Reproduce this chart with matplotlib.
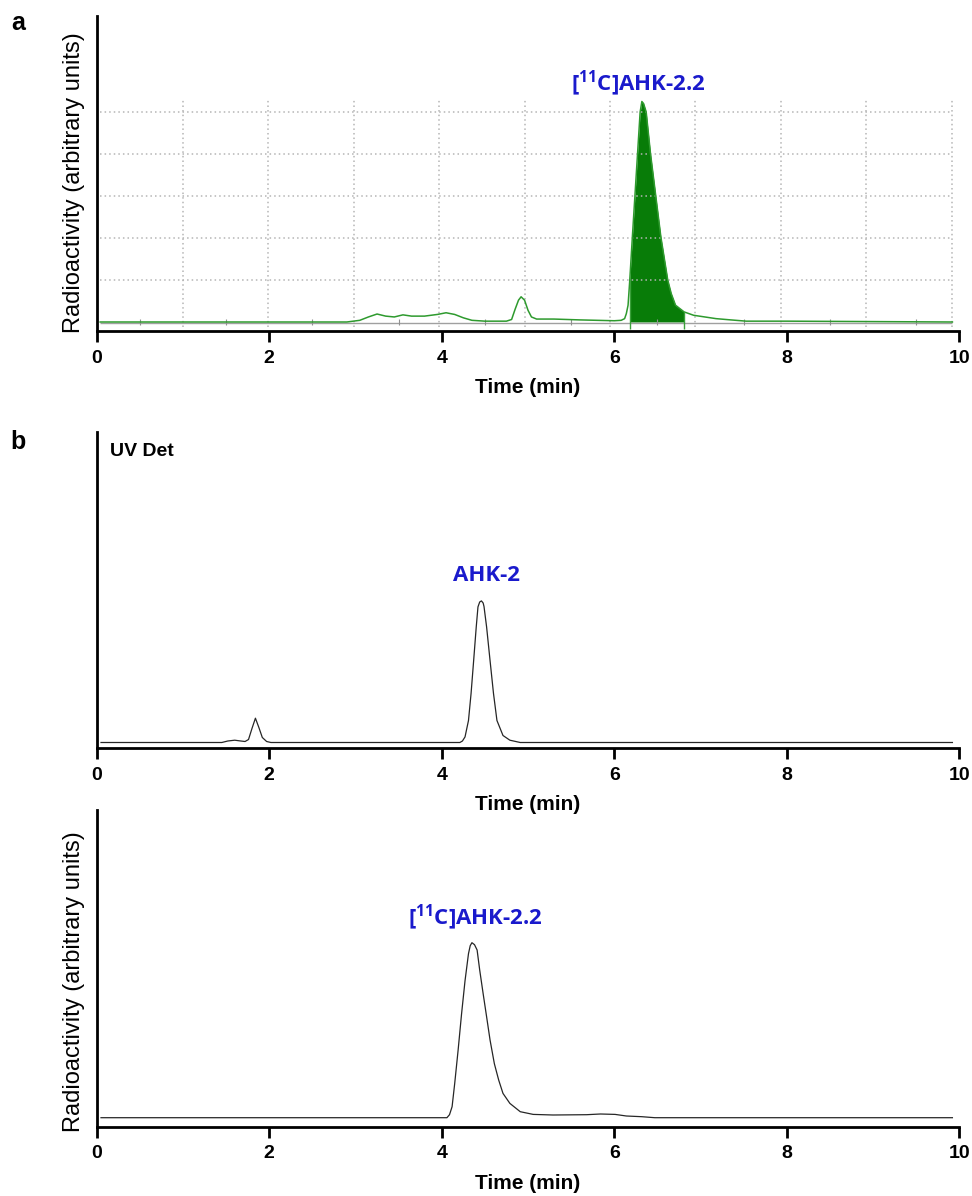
import matplotlib
matplotlib.use('Agg')
import matplotlib.pyplot as plt
import numpy as np

plt.rcParams['font.family'] = 'Liberation Sans'
plt.rcParams['mathtext.fontset'] = 'custom'
plt.rcParams['mathtext.rm'] = 'Open Sans:bold'
plt.rcParams['mathtext.it'] = 'Open Sans:bold'
plt.rcParams['mathtext.bf'] = 'Open Sans:bold'

# panel a: radio-HPLC trace (arbitrary units, 1 = one grid step)
a_time = [0.04, 2.90, 3.05, 3.15, 3.25, 3.35, 3.45, 3.55, 3.65, 3.80, 3.95, 4.05,
          4.15, 4.25, 4.35, 4.50, 4.75, 4.81, 4.85, 4.89, 4.92, 4.96, 5.00, 5.04,
          5.10, 5.30, 5.60, 6.00, 6.08, 6.12, 6.14, 6.16, 6.18, 6.21, 6.24, 6.27,
          6.30, 6.32, 6.34, 6.37, 6.42, 6.48, 6.54, 6.62, 6.66, 6.71, 6.81, 6.92,
          7.05, 7.18, 7.35, 7.53, 8.00, 9.92]
a_signal = [0.0, 0.0, 0.04, 0.12, 0.19, 0.14, 0.12, 0.17, 0.14, 0.14, 0.18, 0.22,
            0.18, 0.10, 0.04, 0.02, 0.02, 0.06, 0.30, 0.52, 0.60, 0.52, 0.28, 0.12,
            0.07, 0.07, 0.05, 0.03, 0.04, 0.08, 0.2, 0.40, 1.0, 2.03, 3.02, 4.01,
            5.0, 5.25, 5.2, 5.0, 4.01, 3.02, 2.03, 1.0, 0.68, 0.40, 0.24, 0.16,
            0.12, 0.08, 0.05, 0.02, 0.02, 0.0]
a_peak_start = 6.18
a_peak_end = 6.81

# panel b top: UV trace
uv_time = [0.05, 1.45, 1.52, 1.60, 1.67, 1.72, 1.76, 1.80, 1.84, 1.88, 1.92, 1.97,
           2.02, 4.21, 4.24, 4.27, 4.31, 4.34, 4.37, 4.40, 4.42, 4.44, 4.46, 4.48,
           4.49, 4.52, 4.56, 4.60, 4.64, 4.71, 4.79, 4.91, 9.92]
uv_signal = [0, 0, 1.5, 2.3, 1.5, 1.0, 3, 14, 24.3, 15, 5, 1,
             0, 0, 1.5, 5.6, 22, 49, 82, 115.6, 135.6, 140.5, 141.6, 139.5,
             136, 115.6, 82, 49, 22, 7, 2.3, 0, 0]

# panel b bottom: radio trace
rad_time = [0.05, 4.06, 4.09, 4.12, 4.15, 4.19, 4.23, 4.27, 4.31, 4.33, 4.35, 4.38,
            4.41, 4.44, 4.48, 4.52, 4.56, 4.61, 4.66, 4.71, 4.79, 4.91, 5.06, 5.29,
            5.68, 5.84, 6.01, 6.14, 6.32, 6.47, 9.92]
rad_signal = [0, 0, 3, 11, 34, 67.7, 104, 137, 164, 172, 175, 173,
              167.7, 147.7, 124, 101, 77.7, 54, 37.7, 24.3, 14.3, 6, 3.3, 2.7,
              3, 3.7, 3.3, 1.7, 1, 0, 0]

x_ticks = [0, 2, 4, 6, 8, 10]
x_tick_labels = ['0', '2', '4', '6', '8', '10']
grid_y = [1, 2, 3, 4, 5]
grid_x = np.arange(1, 11) * 0.99 + 0.01

BLUE = '#1a1acc'
W, H = 972, 1196

fig = plt.figure(figsize=(W / 100, H / 100), dpi=100)


def axes_px(left, top, right, bottom):
    ax = fig.add_axes([left / W, 1 - bottom / H, (right - left) / W, (bottom - top) / H])
    ax.patch.set_alpha(0)
    return ax


def style(ax):
    for s in ['top', 'right']:
        ax.spines[s].set_visible(False)
    for s in ['left', 'bottom']:
        ax.spines[s].set_linewidth(2.0)
    ax.set_xlim(0, 10)
    ax.set_xticks(x_ticks)
    ax.set_xticklabels(x_tick_labels, fontsize=14, fontweight='bold')
    ax.tick_params(axis='x', length=8, width=2.0, pad=5.5)
    ax.set_yticks([])
    ax.set_xlabel('Time (min)', fontsize=15, fontweight='bold', labelpad=8)


# ---- panel a
ax1 = axes_px(96.7, 16, 959.3, 331)
style(ax1)
ax1.set_ylim(-9 / 42, 306 / 42)
ax1.hlines(grid_y, 0.04, 9.92, colors='#b5b5b5', linestyles=(0, (1, 2)), lw=1.1)
ax1.vlines(grid_x, -0.11, 5.29, colors='#b5b5b5', linestyles=(0, (1, 2)), lw=1.1)
ax1.hlines(-0.03, 0.04, 9.92, colors='#a0a0a0', lw=1.0)
ax1.vlines(np.arange(0.5, 10, 1), -0.08, 0.06, colors='#909090', lw=0.8)
t = np.array(a_time)
s = np.array(a_signal)
ax1.fill_between(t, 0, s, where=(t >= a_peak_start) & (t <= a_peak_end),
                 color='#087c08', lw=0)
ax1.plot(a_time, a_signal, color='#2e9a2e', lw=1.1)
ax1.vlines([a_peak_start, a_peak_end], -0.17,
           [np.interp(a_peak_start, t, s), np.interp(a_peak_end, t, s)],
           colors='#3aa03a', lw=1.0)

# ---- panel b top
ax2 = axes_px(96.7, 432, 959.3, 748)
style(ax2)
ax2.set_ylim(-5.5, 310.5)
ax2.plot(uv_time, uv_signal, color='#262626', lw=0.9)

# ---- panel b bottom
ax3 = axes_px(96.7, 810, 959.3, 1126.7)
style(ax3)
ax3.set_ylim(-9, 307.7)
ax3.plot(rad_time, rad_signal, color='#262626', lw=0.9)

# ---- texts
fig.text(18 / W, 1 - 23.5 / H, 'a', fontsize=18, fontweight='bold', ha='center', va='center')
fig.text(17.5 / W, 1 - 442 / H, 'b', fontsize=18, fontweight='bold', ha='center', va='center')
fig.text(110 / W, 1 - 451.5 / H, 'UV Det', fontsize=14, fontweight='bold', ha='left', va='center')
fig.text(74 / W, 1 - 182.5 / H, 'Radioactivity (arbitrary units)', fontsize=17,
         rotation=90, ha='center', va='center')
fig.text(74 / W, 1 - 982 / H, 'Radioactivity (arbitrary units)', fontsize=17,
         rotation=90, ha='center', va='center')

lab_kw = dict(fontsize=16, fontweight='bold', color=BLUE, family='Open Sans',
              ha='center', va='center')
fig.text(638 / W, 1 - 84 / H, '[$^{11}$C]AHK-2.2', **lab_kw)
fig.text(486 / W, 1 - 575.5 / H, 'AHK-2', **lab_kw)
fig.text(475 / W, 1 - 918 / H, '[$^{11}$C]AHK-2.2', **lab_kw)

fig.savefig('out.png', dpi=100)
